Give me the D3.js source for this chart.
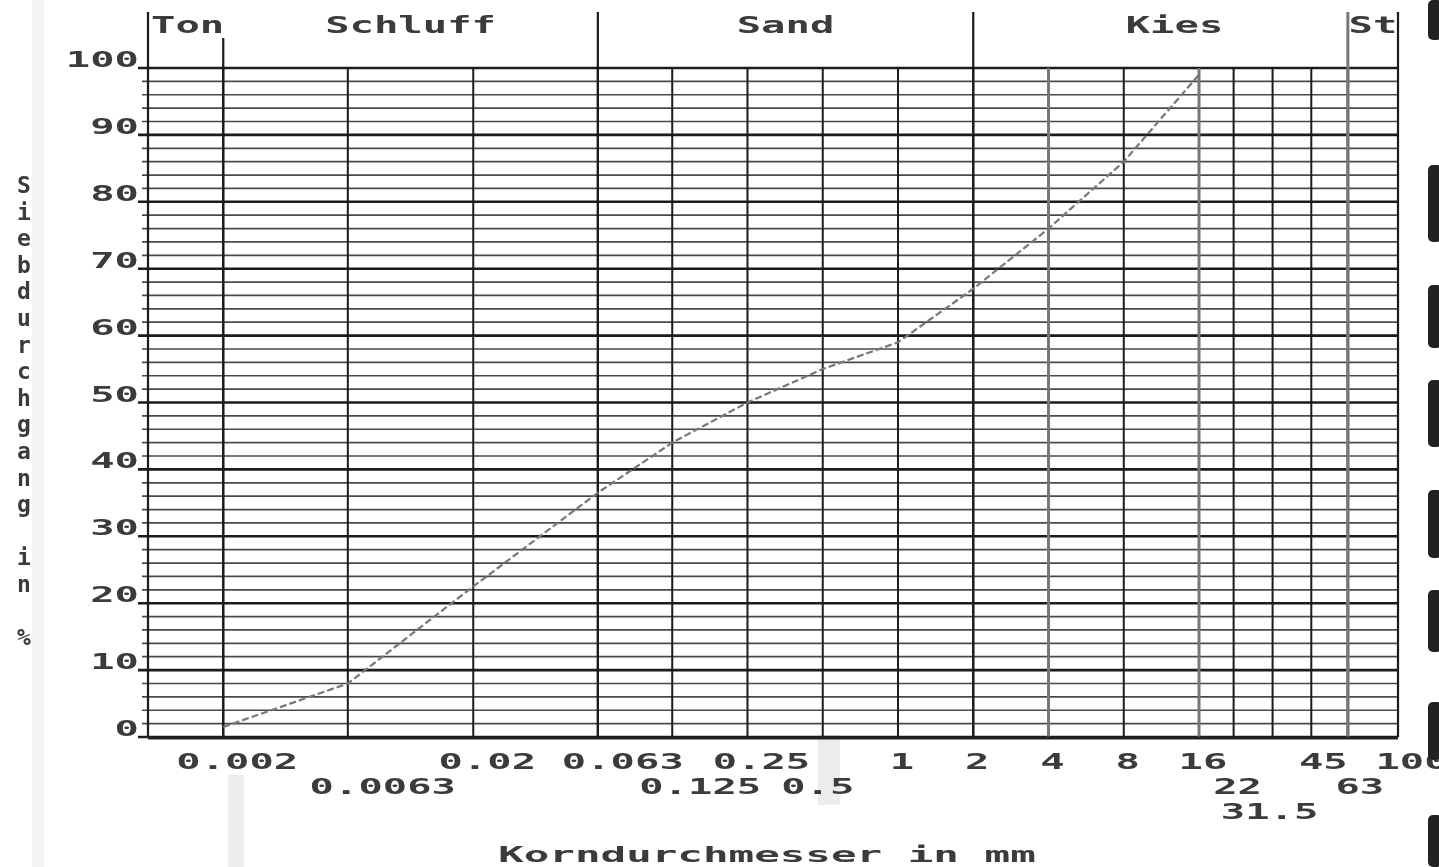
<!DOCTYPE html>
<html>
<head>
<meta charset="utf-8">
<script src="https://cdn.jsdelivr.net/npm/d3@7"></script>
<style>
  html, body { margin: 0; padding: 0; background: #fff; }
  svg { display: block; }
  text { font-family: "DejaVu Sans Mono", "Liberation Mono", monospace; font-weight: bold; fill: #3a3a3a; }
</style>
</head>
<body>
<div class="chart"></div>
<script>
// sieve analysis (Siebdurchgang)
var sieveSizes = [0.002, 0.0063, 0.02, 0.063, 0.125, 0.25, 0.5, 1, 2, 4, 8, 16];
var passing    = [1.5,   8,      22.5, 36.5,  44,    50,   55,  59, 67, 76, 86, 99];

// x ticks + which label row they sit on
var tickValues = [0.002, 0.0063, 0.02, 0.063, 0.125, 0.25, 0.5, 1, 2, 4, 8, 16, 22, 31.5, 45, 63, 100];
var tickLabels = ["0.002", "0.0063", "0.02", "0.063", "0.125", "0.25", "0.5", "1", "2", "4", "8", "16", "22", "31.5", "45", "63", "100"];
var tickRows   = [0, 1, 0, 0, 1, 0, 1, 0, 0, 0, 0, 0, 1, 2, 0, 1, 0];
var greyTicks  = [4, 16, 63];

var yTicks = [0, 10, 20, 30, 40, 50, 60, 70, 80, 90, 100];

// soil classes on top
var soilClasses = ["Ton", "Schluff", "Sand", "Kies", "St"];
var classBounds = [0.001, 0.002, 0.063, 2, 63, 100];

var width = 1439, height = 867;
var margin = { top: 68, left: 148, bottom: 130, right: 41 };
var charW = 24.4;

// the old plotter put labels on a character grid, so they don't sit exactly centred
var labelNudge = { "0.0063": 35, "0.063": 25, "0.125": 28, "0.5": -5, "31.5": -3, "45": 12, "63": 12 };

var svg = d3.select(".chart").append("svg").attr("width", width).attr("height", height);

var defs = svg.append("defs");
defs.append("filter").attr("id", "soft")
  .append("feGaussianBlur").attr("stdDeviation", 0.7);

var x = d3.scaleLog().domain([0.001, 100]).range([margin.left, width - margin.right]);
var y = d3.scaleLinear().domain([0, 100]).range([height - margin.bottom, margin.top]);

var g = svg.append("g").attr("filter", "url(#soft)");

// scan smudges
var smudges = [[32, 0, 12, 867, "#f3f3f3"], [228, 775, 16, 92, "#ececec"], [818, 735, 22, 70, "#ececec"]];
g.append("g").selectAll("rect").data(smudges).enter().append("rect")
  .attr("x", d => d[0]).attr("y", d => d[1]).attr("width", d => d[2]).attr("height", d => d[3])
  .attr("fill", d => d[4]);

// horizontal grid, every 2 %
var hLines = d3.range(0, 101, 2);
g.append("g").selectAll("line").data(hLines).enter().append("line")
  .attr("x1", d => x(0.001) - (d % 10 === 0 ? 10 : 6))
  .attr("x2", x(100))
  .attr("y1", d => y(d)).attr("y2", d => y(d))
  .attr("stroke", d => d % 10 === 0 ? "#1a1a1a" : "#4a4a4a")
  .attr("stroke-width", d => d % 10 === 0 ? 2.6 : 1.7);

// vertical grid at the sieve sizes
g.append("g").selectAll("line").data(tickValues.slice(0, -1)).enter().append("line")
  .attr("x1", d => x(d)).attr("x2", d => x(d))
  .attr("y1", y(100)).attr("y2", y(0))
  .attr("stroke", d => greyTicks.indexOf(d) >= 0 ? "#777" : "#1a1a1a")
  .attr("stroke-width", d => greyTicks.indexOf(d) >= 0 ? 3 : 2);

// frame and class separators reaching up into the header
g.append("g").selectAll("line").data(classBounds).enter().append("line")
  .attr("x1", d => x(d)).attr("x2", d => x(d))
  .attr("y1", (d, i) => i === 1 ? 38 : 12)
  .attr("y2", y(0))
  .attr("stroke", d => d === 63 ? "#777" : "#1a1a1a")
  .attr("stroke-width", d => d === 63 ? 3 : 2.2);

g.append("line")
  .attr("x1", x(0.001)).attr("x2", x(100))
  .attr("y1", y(0) + 1).attr("y2", y(0) + 1)
  .attr("stroke", "#222").attr("stroke-width", 3);

// class names
g.append("g").selectAll("text").data(soilClasses).enter().append("text")
  .attr("x", (d, i) => i === 0 ? x(classBounds[0]) + 3 : x(Math.sqrt(classBounds[i] * classBounds[i + 1])) + (d === "Kies" ? 14 : 0))
  .attr("y", 33)
  .attr("text-anchor", (d, i) => i === 0 ? "start" : "middle")
  .attr("font-size", 23)
  .attr("textLength", d => d.length * charW)
  .attr("lengthAdjust", "spacingAndGlyphs")
  .text(d => d);

// y labels
g.append("g").selectAll("text").data(yTicks).enter().append("text")
  .attr("x", x(0.001) - 9)
  .attr("y", d => y(d) - 1)
  .attr("text-anchor", "end")
  .attr("font-size", 22)
  .attr("textLength", d => String(d).length * charW)
  .attr("lengthAdjust", "spacingAndGlyphs")
  .text(d => d);

// x labels, three rows
g.append("g").selectAll("text").data(tickValues).enter().append("text")
  .attr("x", (d, i) => {
    var t = tickLabels[i];
    var shift = t in labelNudge ? labelNudge[t] : (t.length > 2 ? 14 : 4);
    return x(d) + shift;
  })
  .attr("y", (d, i) => y(0) + 32 + tickRows[i] * 25)
  .attr("text-anchor", "middle")
  .attr("font-size", 22)
  .attr("textLength", (d, i) => tickLabels[i].length * charW)
  .attr("lengthAdjust", "spacingAndGlyphs")
  .text((d, i) => tickLabels[i]);

// axis titles
g.append("text")
  .attr("x", (x.range()[0] + x.range()[1]) / 2 - 6)
  .attr("y", 862)
  .attr("text-anchor", "middle")
  .attr("font-size", 22)
  .attr("textLength", 21 * 25.6)
  .attr("lengthAdjust", "spacingAndGlyphs")
  .text("Korndurchmesser in mm");

var yTitle = "Siebdurchgang in %".split("");
g.append("g").selectAll("text").data(yTitle).enter().append("text")
  .attr("x", 24)
  .attr("y", (d, i) => 193 + i * 26.6)
  .attr("text-anchor", "middle")
  .attr("font-size", 23)
  .text(d => d);

// grading curve
var line = d3.line().x(d => x(d[0])).y(d => y(d[1]));
g.append("path")
  .datum(d3.zip(sieveSizes, passing))
  .attr("d", line)
  .attr("fill", "none")
  .attr("stroke", "#777")
  .attr("stroke-width", 2.2)
  .attr("stroke-dasharray", "7,3");

// edge of the next page in the scan
var edge = [[0, 40], [165, 242], [285, 348], [380, 447], [490, 558], [590, 652], [702, 760], [815, 867]];
g.append("g").selectAll("rect").data(edge).enter().append("rect")
  .attr("x", 1428).attr("y", d => d[0]).attr("width", 14).attr("height", d => d[1] - d[0])
  .attr("rx", 5).attr("fill", "#222");
</script>
</body>
</html>
